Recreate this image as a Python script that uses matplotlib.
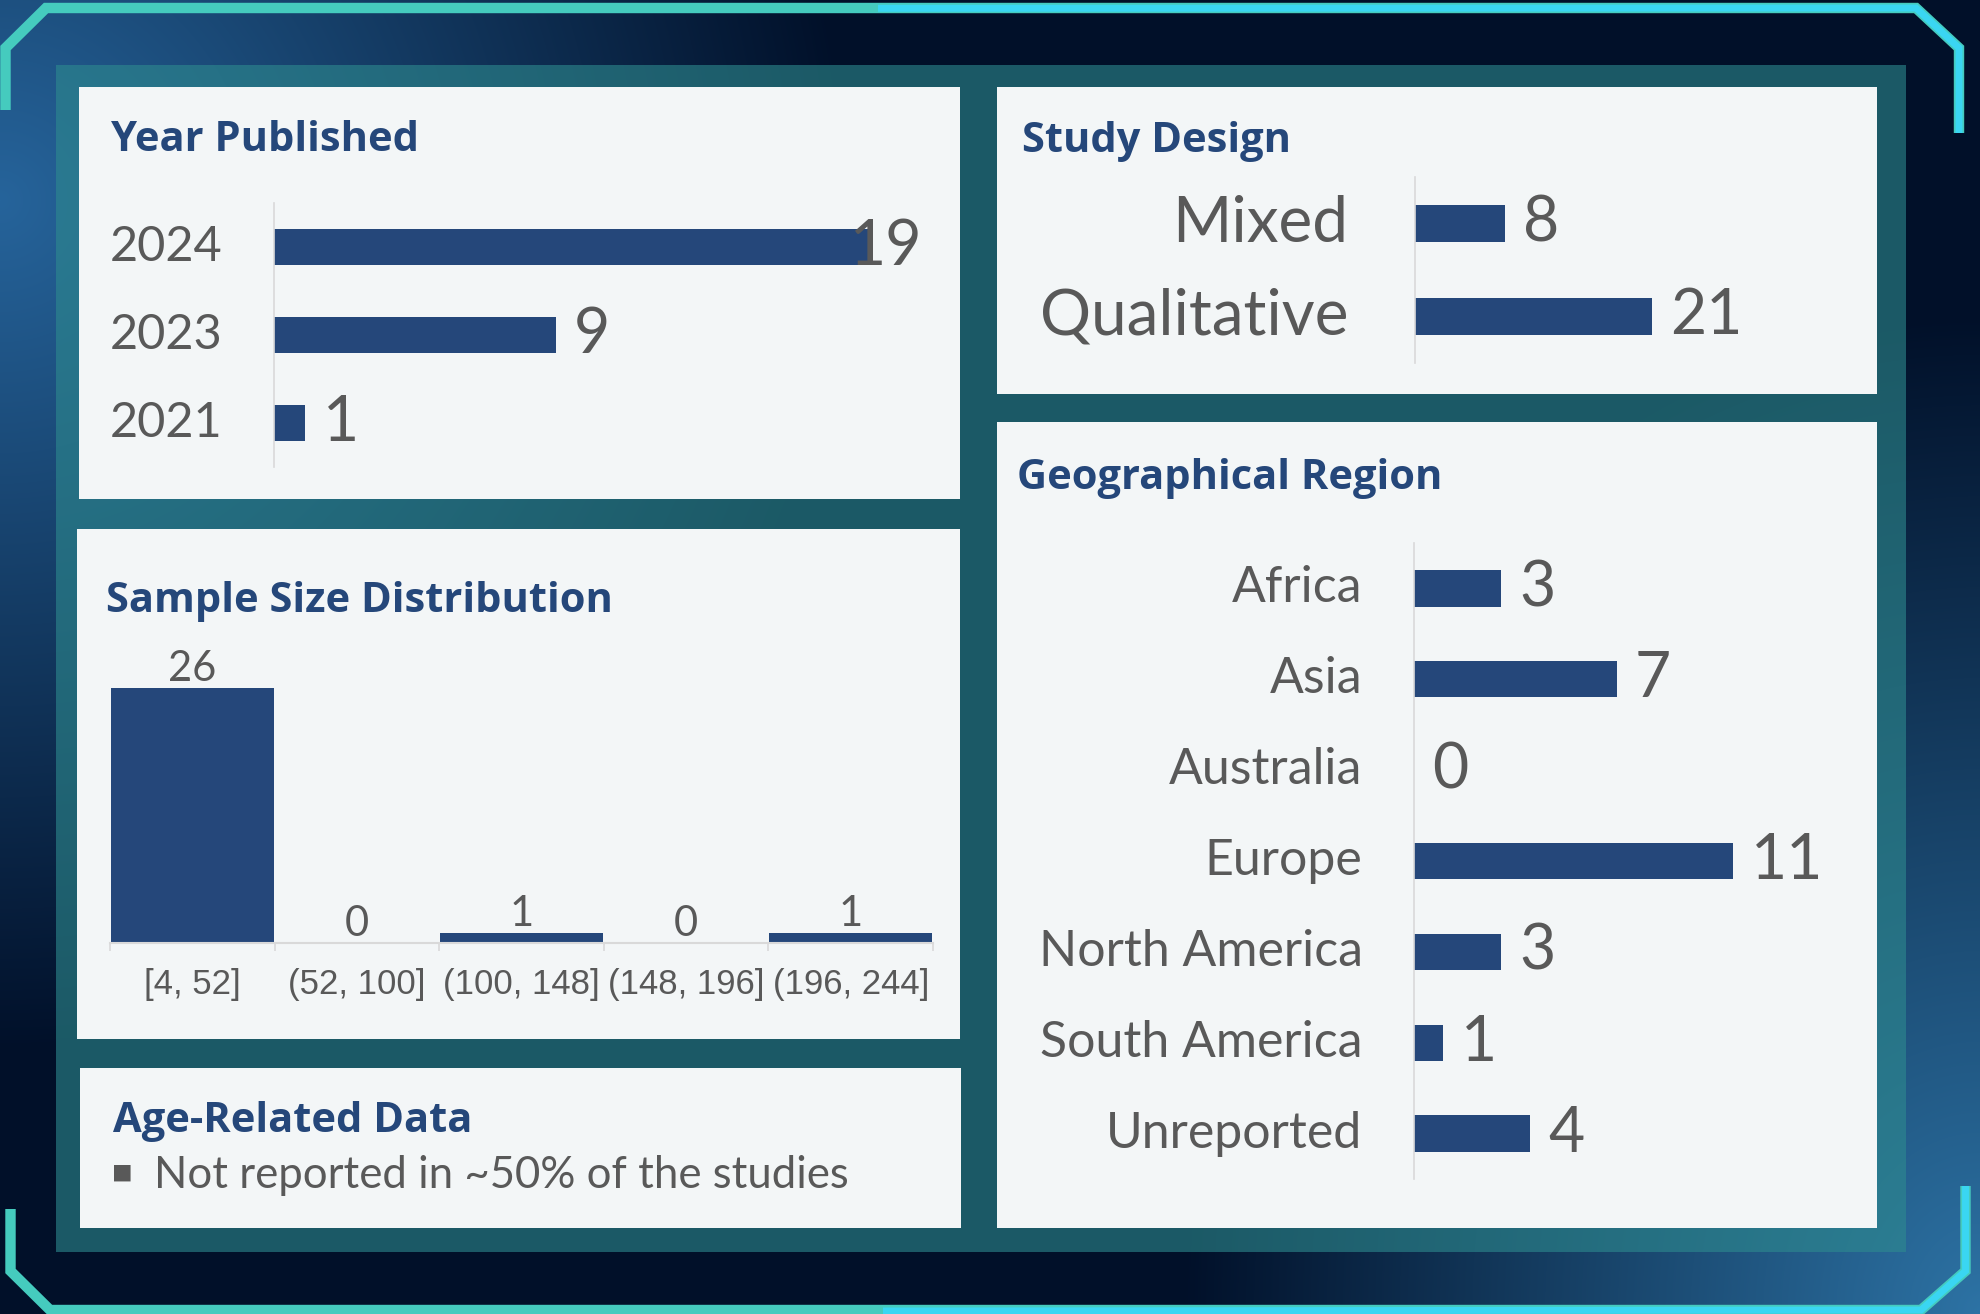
import numpy as np
import matplotlib.pyplot as plt
from matplotlib.patches import Rectangle
from matplotlib.lines import Line2D

# data
years = ["2024", "2023", "2021"]
year_counts = [19, 9, 1]

designs = ["Mixed", "Qualitative"]
design_counts = [8, 21]

regions = ["Africa", "Asia", "Australia", "Europe", "North America", "South America", "Unreported"]
region_counts = [3, 7, 0, 11, 3, 1, 4]

size_bins = ["[4, 52]", "(52, 100]", "(100, 148]", "(148, 196]", "(196, 244]"]
size_counts = [26, 0, 1, 0, 1]

age_note = "Not reported in ~50% of the studies"

# colours
BAR = "#25477A"
TITLE = "#25477A"
GREY = "#595959"
PANEL = "#F3F6F7"
AXIS = "#D9D9D9"
TEAL_LINE = "#45CBBE"
CYAN_LINE = "#3AD6F2"
BODY_FONT = "Lato"
TITLE_FONT = "Open Sans"

W, H = 1981, 1314
fig = plt.figure(figsize=(W / 100, H / 100), dpi=100)


def px_axes(x0, y0, x1, y1):
    # axes placed with pixel coords, y measured from the top
    return fig.add_axes([x0 / W, 1 - y1 / H, (x1 - x0) / W, (y1 - y0) / H])


def fig_text(x, y, s, **kw):
    fig.text(x / W, 1 - y / H, s, **kw)


# background gradient
bg = px_axes(0, 0, W, H)
yy, xx = np.mgrid[0:H, 0:W].astype(float)
dark = np.array([1, 16, 41]) / 255
glow_left = np.array([38, 100, 155]) / 255
glow_br = np.array([45, 115, 165]) / 255
d1 = np.sqrt((xx / 850) ** 2 + ((yy - 200) / 850) ** 2)
w1 = np.clip(1 - d1, 0, 1)
d2 = np.sqrt(((W - xx) / 800) ** 2 + ((H - yy) / 1000) ** 2)
w2 = np.clip(1 - d2, 0, 1)
img = dark[None, None, :] * np.ones((H, W, 1))
img = img + w1[..., None] * (glow_left - dark) + w2[..., None] * (glow_br - dark)
img = np.clip(img, 0, 1)
bg.imshow(img, extent=(0, W, H, 0), aspect="auto", interpolation="bilinear")
bg.set_xlim(0, W)
bg.set_ylim(H, 0)
bg.axis("off")

# teal frame and white panels
bg.add_patch(Rectangle((56, 65), 1850, 1187, color="#2E8B8F", alpha=0.6, lw=0))
panels = [(79, 87, 960, 499), (997, 87, 1877, 394), (997, 422, 1877, 1228),
          (77, 529, 960, 1039), (80, 1068, 961, 1228)]
for x0, y0, x1, y1 in panels:
    bg.add_patch(Rectangle((x0, y0), x1 - x0, y1 - y0, color=PANEL, lw=0))

# decorative corner lines
top_path = [(5.5, 110), (5.5, 48), (46, 8), (1916, 8), (1959, 48), (1959, 133)]
bot_path = [(10.5, 1209), (10.5, 1271), (50, 1310), (1921, 1310), (1965.5, 1271), (1965.5, 1186)]
for path in [top_path, bot_path]:
    xs, ys = zip(*path)
    bg.add_line(Line2D(xs, ys, color=TEAL_LINE, lw=7.5, solid_joinstyle="miter", solid_capstyle="butt"))
top_cyan = [(878, 8.3)] + top_path[3:]
bot_cyan = [(883, 1311)] + bot_path[3:]
for path in [top_cyan, bot_cyan]:
    xs, ys = zip(*path)
    bg.add_line(Line2D(xs, ys, color=CYAN_LINE, lw=5, solid_joinstyle="miter", solid_capstyle="butt"))


def hbar_panel(ax, labels, values, xmax, label_size, pad):
    y = np.arange(len(labels))
    ax.barh(y, values, height=0.4, color=BAR)
    ax.set_ylim(len(labels) - 0.5, -0.5)
    ax.set_xlim(0, xmax)
    ax.set_yticks(y)
    ax.set_yticklabels(labels, fontsize=label_size, color=GREY, family=BODY_FONT, va="center")
    ax.tick_params(axis="y", length=0, pad=pad)
    ax.set_xticks([])
    for s in ["top", "right", "bottom"]:
        ax.spines[s].set_visible(False)
    ax.spines["left"].set_color(AXIS)
    ax.spines["left"].set_linewidth(1.2)
    ax.patch.set_visible(False)
    for yi, v in zip(y, values):
        if v / xmax > 0.9:
            # label pushed back inside the plot area, like the original
            ax.text(xmax, yi, str(v), ha="right", va="center", fontsize=45,
                    color=GREY, family=BODY_FONT)
        else:
            ax.annotate(str(v), (v, yi), xytext=(13, 0), textcoords="offset points",
                        ha="left", va="center", fontsize=45, color=GREY, family=BODY_FONT)


# Year Published
ax1 = px_axes(274, 203, 922, 467)
hbar_panel(ax1, years, year_counts, 20.7, 35, 37)

# Study Design
ax2 = px_axes(1415, 177, 1860, 363)
hbar_panel(ax2, designs, design_counts, 39.4, 46, 48)

# Geographical Region
ax3 = px_axes(1414, 543, 1860, 1179)
hbar_panel(ax3, regions, region_counts, 15.4, 36, 37)

# Sample Size Distribution
ax4 = px_axes(110, 650, 933, 943)
xpos = np.arange(len(size_bins))
ax4.bar(xpos, size_counts, width=0.99, color=BAR)
ax4.set_xlim(-0.5, len(size_bins) - 0.5)
ax4.set_ylim(0, 29.9)
ax4.set_xticks(xpos)
ax4.set_xticklabels(size_bins, fontsize=25, color=GREY, family="Liberation Sans")
ax4.set_xticks(np.arange(len(size_bins) + 1) - 0.5, minor=True)
ax4.tick_params(axis="x", which="major", length=0, pad=18)
ax4.tick_params(axis="x", which="minor", length=6, width=1.2, color=AXIS)
ax4.set_yticks([])
for s in ["top", "right", "left"]:
    ax4.spines[s].set_visible(False)
ax4.spines["bottom"].set_color(AXIS)
ax4.spines["bottom"].set_linewidth(1.5)
ax4.patch.set_visible(False)
for xi, v in zip(xpos, size_counts):
    ax4.annotate(str(v), (xi, v), xytext=(0, 0), textcoords="offset points",
                 ha="center", va="bottom", fontsize=30, color=GREY, family=BODY_FONT)

# panel titles
title_kw = dict(fontsize=30, fontweight="bold", color=TITLE, family=TITLE_FONT, va="baseline")
fig_text(111, 151, "Year Published", **title_kw)
fig_text(1022, 152, "Study Design", **title_kw)
fig_text(1017, 489, "Geographical Region", **title_kw)
fig_text(106, 612, "Sample Size Distribution", **title_kw)
fig_text(113, 1132, "Age-Related Data", **title_kw)

# age note
fig_text(122, 1172, "\u25aa", fontsize=24, color=GREY, family="DejaVu Sans", ha="center", va="center")
fig_text(154, 1188, age_note, fontsize=31.5, color=GREY, family=BODY_FONT, va="baseline")

plt.savefig("out.png", dpi=100)
